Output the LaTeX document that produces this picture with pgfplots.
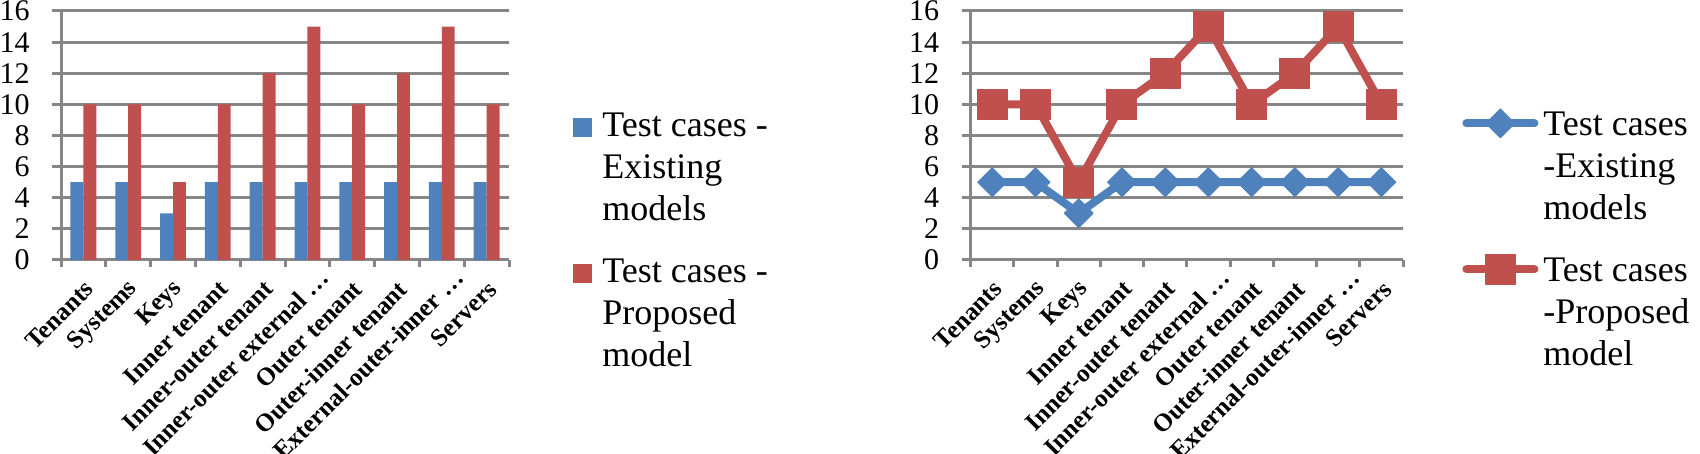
\documentclass[border=0pt]{standalone}
\usepackage{pgfplots}
\pgfplotsset{compat=1.18}
\usepackage{fontspec}
\setmainfont{Liberation Serif}
\definecolor{xblue}{HTML}{4F81BD}
\definecolor{xred}{HTML}{C0504D}
\definecolor{xgrid}{HTML}{868686}
\newcommand{\lentry}[1]{\begin{tabular}[t]{@{}l@{}}#1\end{tabular}}
\newcommand{\trunc}[1]{#1\kern-8pt\null}
\pgfplotsset{
  base/.style={
    scale only axis,
    height=124.5pt,
    xmin=-0.5, xmax=9.5, ymin=0, ymax=16,
    ytick={0,2,...,16},
    xtick={0,...,9},
    xticklabels={Tenants, Systems, Keys, Inner tenant, Inner-outer tenant, {\trunc{Inner-outer external …}}, Outer tenant, Outer-inner tenant, {\trunc{External-outer-inner …}}, Servers},
    minor xtick={-0.5,0.5,...,9.5},
    axis x line*=bottom, axis y line*=left,
    axis line style={xgrid, line width=1.5pt},
    tick align=outside,
    major tick length=4.5pt, minor tick length=3.5pt,
    xtick style={draw=none},
    minor x tick style={draw=xgrid, line width=1.5pt},
    ytick style={draw=xgrid, line width=1.5pt},
    ymajorgrids, major grid style={xgrid, line width=1.5pt},
    /pgf/number format/assume math mode=true,
    yticklabel style={font=\fontsize{15}{16}\selectfont, inner sep=0pt, xshift=-11pt},
    xticklabel style={font=\fontsize{12.6}{15}\selectfont\bfseries, xshift=3pt, yshift=-8pt, rotate=45, anchor=east, inner sep=0pt},
    legend style={draw=none, fill=none, inner sep=0pt, font=\fontsize{18}{21}\selectfont,
      nodes={inner sep=0pt, text depth=}, row sep=10pt, anchor=north west,
      cells={anchor=base west}},
  },
  sqleg/.style={legend image code/.code={\fill[##1] (0pt,0pt) rectangle (9.5pt,9.5pt);}},
  lnleg/.style={legend image code/.code={\draw[##1, mark repeat=2, mark phase=2, line cap=round] plot coordinates {(2pt,6pt) (19pt,6pt) (36pt,6pt)};}},
}
\begin{document}
\begin{tikzpicture}
\begin{axis}[base, width=224pt, at={(30.5pt,97pt)}, anchor=south west,
  ybar=0pt, bar width=0.288,
  legend style={at={(1.143,0.614)}, column sep=5pt}]
\addplot[fill=xblue, draw=none, sqleg] coordinates {(0,5) (1,5) (2,3) (3,5) (4,5) (5,5) (6,5) (7,5) (8,5) (9,5)};
\addlegendentry{\lentry{Test cases -\\Existing\\models}}
\addplot[fill=xred, draw=none, sqleg] coordinates {(0,10) (1,10) (2,5) (3,10) (4,12) (5,15) (6,10) (7,12) (8,15) (9,10)};
\addlegendentry{\lentry{Test cases -\\Proposed\\model}}
\end{axis}
\begin{axis}[base, width=216.2pt, at={(485.3pt,97pt)}, anchor=south west,
  clip=false,
  legend style={at={(1.1364,0.62)}, column sep=2.5pt}]
\addplot[xblue, line width=4pt, line join=round, mark=square*, mark size=5.1pt,
  mark options={rotate=45, fill=xblue, draw=xblue, line width=0.5pt}, lnleg]
  coordinates {(0,5) (1,5) (2,3) (3,5) (4,5) (5,5) (6,5) (7,5) (8,5) (9,5)};
\addlegendentry{\lentry{Test cases\\-Existing\\models}}
\addplot[xred, line width=4pt, line join=round, mark=square*, mark size=7.5pt,
  mark options={fill=xred, draw=xred, line width=0.5pt}, lnleg]
  coordinates {(0,10) (1,10) (2,5) (3,10) (4,12) (5,15) (6,10) (7,12) (8,15) (9,10)};
\addlegendentry{\lentry{Test cases\\-Proposed\\model}}
\end{axis}
\pgfresetboundingbox
\path[use as bounding box] (0,0) rectangle (850pt,227pt);
\end{tikzpicture}
\end{document}
